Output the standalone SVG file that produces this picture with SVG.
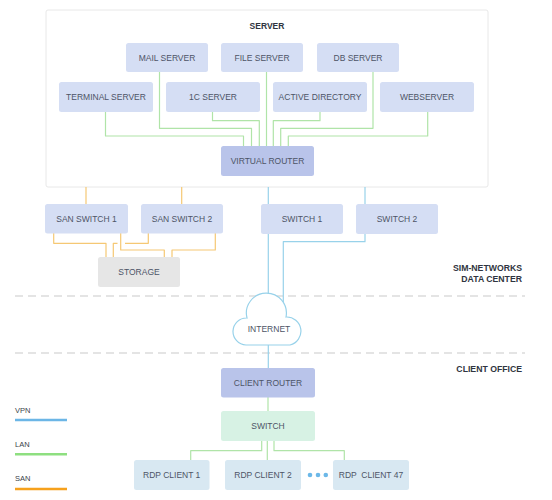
<svg xmlns="http://www.w3.org/2000/svg" width="552" height="500" viewBox="0 0 552 500">
<style>
.t{font-family:"Liberation Sans",Arial,sans-serif;font-size:8.5px;fill:#4d5466;text-anchor:middle}
.h{font-family:"Liberation Sans",Arial,sans-serif;font-size:8.7px;font-weight:bold;fill:#2f3440}
.n{fill:#d5def4}
.r{fill:#b9c4ea}
.lan{fill:none;stroke:#b0e4a8;stroke-width:1.2;stroke-linejoin:round}
.vpn{fill:none;stroke:#98d2ea;stroke-width:1.2;stroke-linejoin:round}
.san{fill:none;stroke:#f5c874;stroke-width:1.2;stroke-linejoin:round}
.dash{stroke:#dcdcdc;stroke-width:1.5;stroke-dasharray:8 5}
</style>
<rect width="552" height="500" fill="#ffffff"/>
<g id="server-zone">
<rect x="46" y="10" width="442" height="177" rx="2" fill="#ffffff" stroke="#e8e8e8" stroke-width="1"/>
<text class="h" x="267" y="29" text-anchor="middle" style="font-size:8.5px">SERVER</text>
</g>
<g id="zones">
<line class="dash" x1="15" y1="296" x2="525" y2="296"/>
<line class="dash" x1="15" y1="353" x2="525" y2="353"/>
<text class="h" x="522" y="271" text-anchor="end">SIM-NETWORKS</text>
<text class="h" x="522" y="282" text-anchor="end">DATA CENTER</text>
<text class="h" x="522" y="372" text-anchor="end">CLIENT OFFICE</text>
</g>
<g id="connectors">
<path class="lan" d="M105.5 112 V136 H243.5 V146"/>
<path class="lan" d="M159.5 72 V128.3 H251.5 V146"/>
<path class="lan" d="M212.5 112 V120.7 H259.3 V146"/>
<path class="lan" d="M266.5 72 V146"/>
<path class="lan" d="M320 112 V120.7 H273.3 V146"/>
<path class="lan" d="M373 72 V128.3 H280.7 V146"/>
<path class="lan" d="M427.7 112 V136 H288.3 V146"/>
<path class="vpn" d="M268.3 187 V304"/>
<path class="vpn" d="M365 187 V204"/>
<path class="vpn" d="M365 234 V241.7 H283.3 V313"/>
<path class="vpn" d="M268.3 345 V368"/>
<path class="san" d="M86 187 V204"/>
<path class="san" d="M181.7 187 V204"/>
<path class="san" d="M53.7 233 V243.3 H106 V257"/>
<path class="san" d="M120.7 233 V250 H164.3 V257"/>
<path class="san" d="M148.3 233 V243.3 H125"/>
<path class="san" d="M117.5 243.3 H113.3 V257"/>
<path class="san" d="M215.3 233 V250 H172 V257"/>
<path class="lan" d="M268 397 V411"/>
<path class="lan" d="M261.7 441 V450.7 H190.7 V460"/>
<path class="lan" d="M267.3 441 V460"/>
<path class="lan" d="M274 441 V450.7 H344.3 V460"/>
</g>
<g id="mail-server"><rect class="n" x="126" y="43" width="82" height="29" rx="2.5"/><text class="t" x="167" y="60.5">MAIL SERVER</text></g>
<g id="file-server"><rect class="n" x="221" y="43" width="82" height="29" rx="2.5"/><text class="t" x="262" y="60.5">FILE SERVER</text></g>
<g id="db-server"><rect class="n" x="317" y="43" width="82" height="29" rx="2.5"/><text class="t" x="358" y="60.5">DB SERVER</text></g>
<g id="terminal-server"><rect class="n" x="59" y="82" width="94" height="30" rx="2.5"/><text class="t" x="106" y="100">TERMINAL SERVER</text></g>
<g id="1c-server"><rect class="n" x="166" y="82" width="94" height="30" rx="2.5"/><text class="t" x="213" y="100">1C SERVER</text></g>
<g id="active-directory"><rect class="n" x="273" y="82" width="94" height="30" rx="2.5"/><text class="t" x="320" y="100">ACTIVE DIRECTORY</text></g>
<g id="webserver"><rect class="n" x="380" y="82" width="94" height="30" rx="2.5"/><text class="t" x="427" y="100">WEBSERVER</text></g>
<g id="virtual-router"><rect class="r" x="221" y="146" width="93" height="30" rx="2.5"/><text class="t" x="267.5" y="164">VIRTUAL ROUTER</text></g>
<g id="san-switch-1"><rect class="n" x="45" y="204" width="83" height="29.5" rx="2.5"/><text class="t" x="86.5" y="222">SAN SWITCH 1</text></g>
<g id="san-switch-2"><rect class="n" x="141" y="204" width="82" height="29.5" rx="2.5"/><text class="t" x="182" y="222">SAN SWITCH 2</text></g>
<g id="switch-1"><rect class="n" x="261" y="204" width="82" height="30" rx="2.5"/><text class="t" x="302" y="222">SWITCH 1</text></g>
<g id="switch-2"><rect class="n" x="356" y="204" width="82" height="30" rx="2.5"/><text class="t" x="397" y="222">SWITCH 2</text></g>
<g id="storage"><rect x="98" y="257" width="82" height="30" rx="2.5" fill="#e6e6e6"/><text class="t" x="139" y="275">STORAGE</text></g>
<g id="internet">
<path d="M246 345 A13.5 13.5 0 0 1 247 318 A20 20 0 1 1 286 317 A14.2 14.2 0 0 1 290 345 Z" fill="#ffffff" stroke="#98d2ea" stroke-width="1.2"/>
<text class="t" x="269" y="331.5">INTERNET</text>
</g>
<g id="client-router"><rect class="r" x="221" y="368" width="94" height="29.5" rx="2.5"/><text class="t" x="268" y="385.7">CLIENT ROUTER</text></g>
<g id="switch"><rect x="221" y="411" width="94" height="30" rx="2.5" fill="#d7f2e4"/><text class="t" x="268" y="429">SWITCH</text></g>
<g id="rdp-client-1"><rect x="134" y="460" width="75.5" height="30" rx="2.5" fill="#d8e8f2"/><text class="t" x="171.7" y="478">RDP CLIENT 1</text></g>
<g id="rdp-client-2"><rect x="225" y="460" width="76" height="30" rx="2.5" fill="#d8e8f2"/><text class="t" x="263" y="478">RDP CLIENT 2</text></g>
<g id="ellipsis"><circle cx="310" cy="475" r="2.3" fill="#6cb8e8"/><circle cx="318" cy="475" r="2.3" fill="#6cb8e8"/><circle cx="325.8" cy="475" r="2.3" fill="#6cb8e8"/></g>
<g id="rdp-client-47"><rect x="333" y="460" width="76" height="30" rx="2.5" fill="#d8e8f2"/><text class="t" x="371" y="478" xml:space="preserve">RDP  CLIENT 47</text></g>
<g id="legend">
<text class="t" x="15" y="412.5" style="text-anchor:start;font-size:7.5px;fill:#3a3f4a">VPN</text>
<line x1="15" y1="420" x2="67" y2="420" stroke="#6cb6e6" stroke-width="2.4"/>
<text class="t" x="15" y="447" style="text-anchor:start;font-size:7.5px;fill:#3a3f4a">LAN</text>
<line x1="15" y1="454.3" x2="67" y2="454.3" stroke="#8edf80" stroke-width="2.4"/>
<text class="t" x="15" y="481" style="text-anchor:start;font-size:7.5px;fill:#3a3f4a">SAN</text>
<line x1="15" y1="489" x2="67" y2="489" stroke="#f6a11c" stroke-width="2.4"/>
</g>
</svg>
